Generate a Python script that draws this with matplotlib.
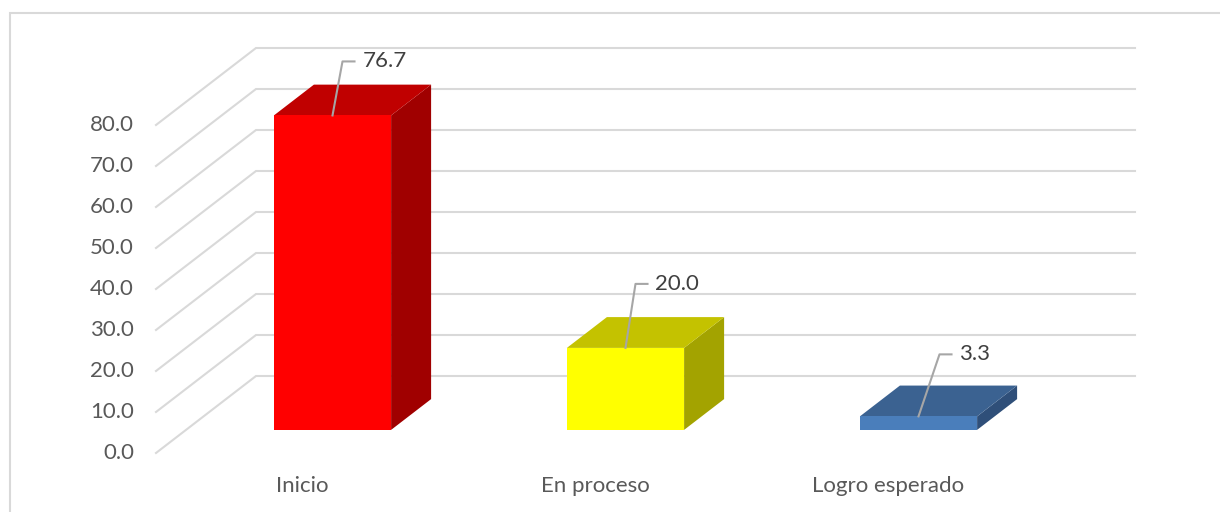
import numpy as np
import matplotlib.pyplot as plt
from matplotlib.patches import Polygon, Rectangle
from matplotlib.lines import Line2D
from matplotlib.transforms import IdentityTransform

# ==== Data ====
categories = ['Inicio', 'En proceso', 'Logro esperado']
values = [76.7, 20.0, 3.3]
value_labels = ['76.7', '20.0', '3.3']
y_ticks = [0, 10, 20, 30, 40, 50, 60, 70, 80]

# ==== Style ====
front_colors = ['#ff0000', '#ffff00', '#4a7ebb']
top_colors = ['#c00000', '#c4c200', '#3b6291']
side_colors = ['#a00000', '#a3a300', '#2f4f79']
grid_color = '#d9d9d9'
text_color = '#595959'
font = 'Lato'
fsize = 16

DX, DY = 100 / 293, 77 / 4.1      # oblique depth vector (category units, value units)
d_front, d_back = 0.3, 0.7        # bar depth span on the floor
half_w = 0.2
# leader offsets in pixels (bend point), per label
leader_bend = [(10, 54), (10, 64), (21, 62)]

fig = plt.figure(figsize=(12.2, 5.12), dpi=100)
ax = fig.add_axes([0, 0, 1, 1])
ax.set_xlim(-302.5 / 293, (1220 - 302.5) / 293)
ax.set_ylim((453 - 512) / 4.1, 453 / 4.1)
ax.axis('off')

# chart border
fig.patches.append(Rectangle((10, -10), 1300, 512 + 10 - 13, transform=IdentityTransform(),
                             fill=False, edgecolor=grid_color, linewidth=1.5, figure=fig))

# ==== Walls / gridlines ====
x0, x1 = -0.5, len(categories) - 0.5
for v in y_ticks:
    ax.plot([x0, x0 + DX, x1 + DX], [v, v + DY, v + DY], color=grid_color, lw=1.5,
            solid_joinstyle='miter', zorder=1)
    ax.annotate(f'{v:.1f}', xy=(x0, v), xytext=(-22, 0), textcoords='offset pixels',
                ha='right', va='center', fontsize=fsize, color=text_color, family=font)

# ==== Bars ====
for i, v in enumerate(values):
    xf = i + d_front * DX
    yf = d_front * DY
    xb = i + d_back * DX
    yb = d_back * DY
    front = [(xf - half_w, yf), (xf + half_w, yf), (xf + half_w, yf + v), (xf - half_w, yf + v)]
    top = [(xf - half_w, yf + v), (xf + half_w, yf + v), (xb + half_w, yb + v), (xb - half_w, yb + v)]
    side = [(xf + half_w, yf), (xb + half_w, yb), (xb + half_w, yb + v), (xf + half_w, yf + v)]
    ax.add_patch(Polygon(side, closed=True, facecolor=side_colors[i], edgecolor='none', zorder=3))
    ax.add_patch(Polygon(top, closed=True, facecolor=top_colors[i], edgecolor='none', zorder=3))
    ax.add_patch(Polygon(front, closed=True, facecolor=front_colors[i], edgecolor='none', zorder=4))

    # category label at the front of the floor
    ax.annotate(categories[i], xy=(i, 0), xytext=(0, -33), textcoords='offset pixels',
                ha='center', va='center', fontsize=fsize, color=text_color, family=font)

fig.canvas.draw()

# ==== Data labels with leader lines ====
for i, v in enumerate(values):
    anchor = ax.transData.transform((i + d_front * DX, d_front * DY + v))
    bx, by = leader_bend[i]
    pts = np.array([[0, 0], [bx, by], [bx + 12, by]]) + anchor
    fig.lines.append(Line2D(pts[:, 0], pts[:, 1], transform=IdentityTransform(),
                            color='#a6a6a6', lw=1.5, zorder=5, figure=fig))
    ax.annotate(value_labels[i], xy=(i + d_front * DX, d_front * DY + v),
                xytext=(bx + 20, by), textcoords='offset pixels',
                ha='left', va='center', fontsize=fsize, color='#404040', family=font, zorder=6)

fig.savefig('out.png', dpi=100)
